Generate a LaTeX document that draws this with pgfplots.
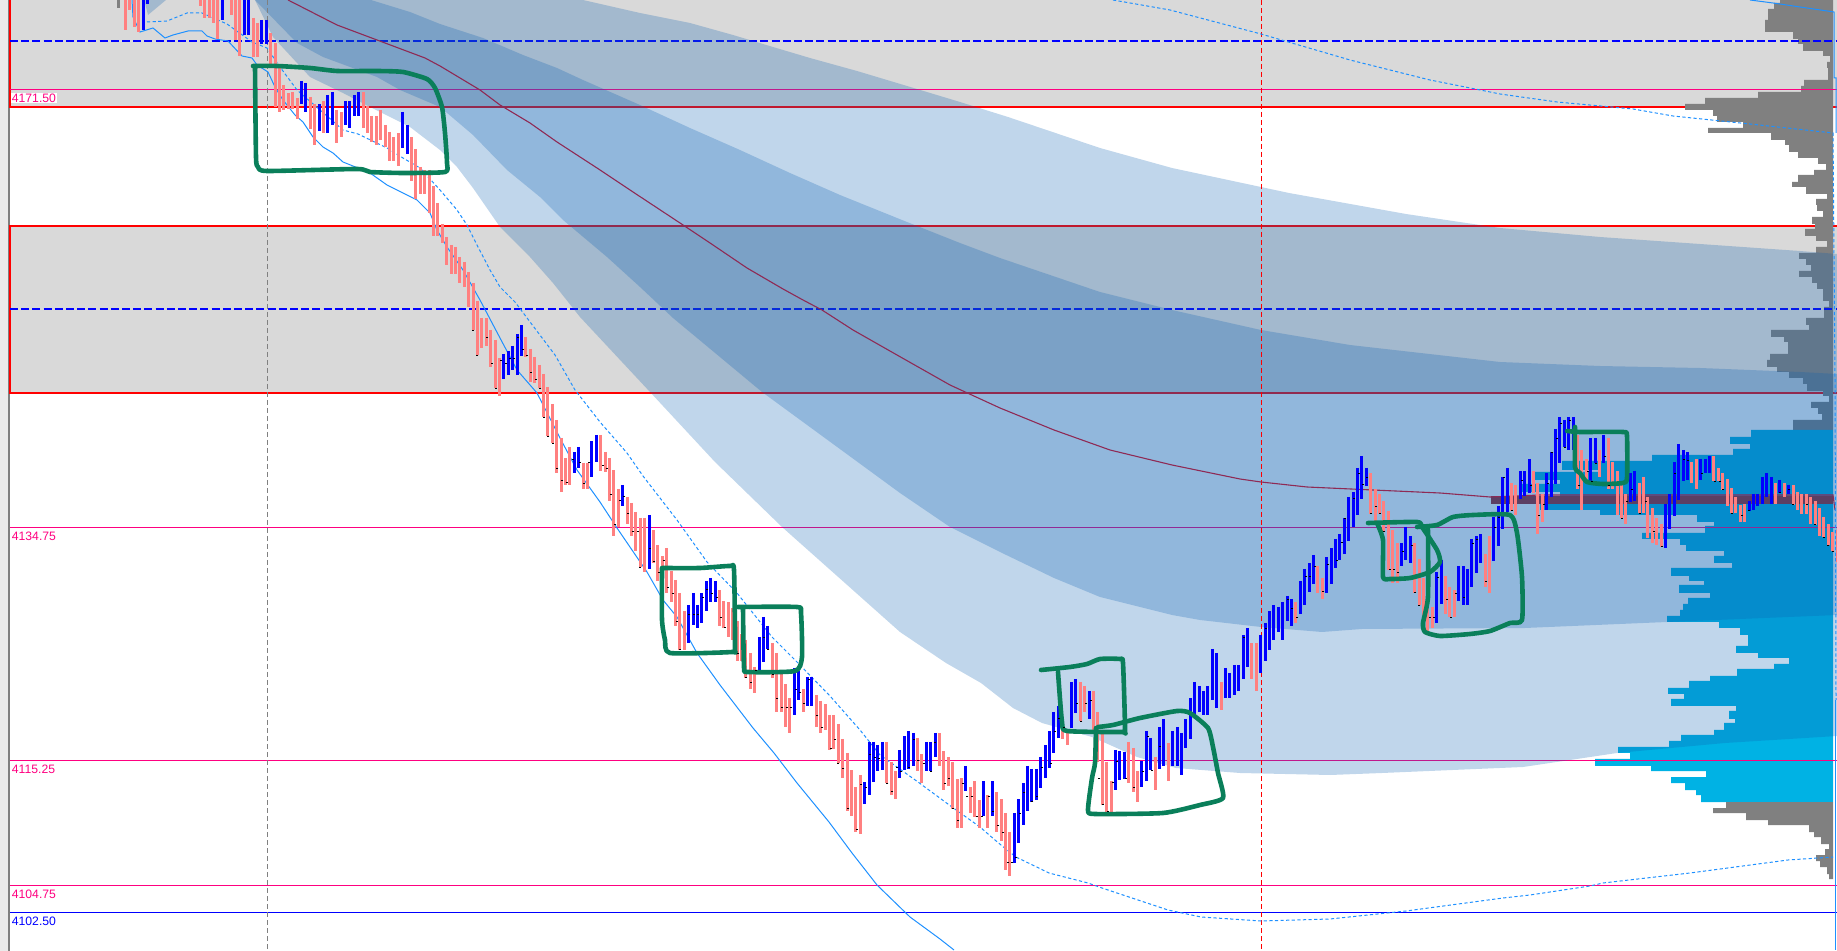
\documentclass[border=0pt]{standalone}
\usepackage{fontspec}
\setmainfont{Liberation Sans}
\usepackage{pgfplots}
\usepackage{pgfplotstable}
\pgfplotsset{compat=1.18}
\definecolor{upbar}{HTML}{0000FF}
\definecolor{downbar}{HTML}{FF8080}
\definecolor{zone}{HTML}{D9D9D9}
\definecolor{vol}{HTML}{808080}
\definecolor{va}{HTML}{00B2E4}
\definecolor{poc}{HTML}{5C3F63}
\definecolor{sd}{RGB}{12,96,177}
\definecolor{vwap}{HTML}{8E2A55}
\definecolor{level}{HTML}{FF0080}
\definecolor{bandline}{HTML}{1E90FF}
\definecolor{penink}{HTML}{0A7F5A}
% bars: n = bar number, t/b = top and bottom in screen px
\pgfplotstableread[row sep=\\]{
n t b\\
-75 -5 30\\ -74 -5 4\\ -57 -5 20\\ -52 -5 35\\ -51 -5 35\\ -48 20 44\\ -47 20 44\\ -39 81 104\\ -38 83 112\\ -35 104 131\\
-33 95 133\\ -32 92 125\\ -29 101 125\\ -28 101 128\\ -27 95 116\\ -26 92 116\\ -16 112 148\\ -15 125 154\\
7 354 379\\ 8 351 375\\ 9 346 370\\ 10 334 375\\ 11 325 356\\ 23 452 473\\ 24 447 468\\ 27 441 477\\ 28 435 462\\ 34 485 506\\ 40 515 569\\
49 605 643\\ 50 593 625\\ 51 605 628\\ 52 593 623\\ 53 581 611\\ 54 578 602\\ 55 581 602\\ 65 637 671\\ 66 617 662\\ 67 626 649\\
73 668 715\\ 74 671 700\\ 76 677 706\\ 77 677 706\\ 89 782 804\\ 90 742 795\\ 91 742 782\\ 92 745 771\\ 93 742 770\\ 97 750 778\\ 98 736 770\\
99 731 769\\ 100 733 766\\ 103 742 771\\ 104 742 771\\ 105 733 757\\ 112 766 791\\ 116 781 816\\ 118 781 816\\ 123 813 863\\ 124 799 843\\
125 783 825\\ 126 766 811\\ 127 769 802\\ 128 769 800\\ 129 757 788\\ 130 745 778\\ 131 731 768\\ 132 712 753\\ 133 706 738\\ 136 682 728\\
137 679 713\\ 140 691 719\\ 146 750 790\\ 147 751 780\\ 148 752 779\\ 152 761 787\\ 153 731 781\\ 154 738 770\\ 156 727 769\\ 157 719 766\\
159 731 766\\ 160 727 766\\ 161 733 775\\ 162 719 748\\ 163 698 739\\ 164 682 715\\ 165 686 712\\ 166 691 715\\ 167 686 715\\ 168 649 700\\
169 653 708\\ 171 668 698\\ 172 673 698\\ 173 665 695\\ 174 665 691\\ 175 635 679\\ 176 628 667\\ 179 635 673\\ 180 623 661\\ 181 611 650\\
182 605 640\\ 183 607 632\\ 184 602 640\\ 185 596 621\\ 186 599 626\\ 188 581 614\\ 189 569 605\\ 190 563 592\\ 191 555 584\\ 194 557 593\\
195 548 584\\ 196 539 568\\ 197 534 560\\ 198 518 554\\ 199 497 541\\ 200 492 527\\ 201 468 515\\ 202 456 499\\ 203 468 486\\ 211 543 566\\
212 527 560\\ 213 536 563\\ 219 572 623\\ 220 560 604\\ 224 566 601\\ 225 566 605\\ 226 569 605\\ 227 539 587\\ 228 536 573\\ 229 534 563\\
232 517 561\\ 233 506 546\\ 234 477 529\\ 235 468 512\\ 238 471 499\\ 239 471 496\\ 240 459 493\\ 244 473 510\\ 245 452 497\\ 246 429 484\\
247 417 463\\ 248 420 447\\ 249 417 450\\ 250 417 450\\ 254 438 481\\ 255 438 463\\ 257 435 463\\ 263 473 502\\ 264 471 501\\ 271 504 548\\
272 494 529\\ 273 462 516\\ 274 444 500\\ 275 450 481\\ 276 452 480\\ 279 459 480\\ 280 459 473\\ 281 456 473\\ 290 501 511\\ 291 494 510\\
292 494 506\\ 293 477 504\\ 294 473 497\\ 295 477 504\\ 297 480 493\\ 299 485 494\\
}\upbars
\pgfplotstableread[row sep=\\]{
n t b\\
-79 -5 30\\ -78 -5 10\\ -77 -5 27\\ -76 -5 32\\ -62 -5 6\\ -61 -5 18\\ -60 -5 18\\ -59 -5 23\\ -58 -5 39\\ -55 -5 15\\ -54 -5 40\\ -53 -5 56\\
-50 18 57\\ -49 23 57\\ -46 33 68\\ -45 43 107\\ -44 68 112\\ -43 85 110\\ -42 93 109\\ -41 92 109\\ -40 98 119\\ -37 97 129\\ -36 104 145\\
-34 101 133\\ -31 110 143\\ -30 112 137\\ -25 92 128\\ -24 106 133\\ -23 116 142\\ -22 116 145\\ -21 110 140\\ -20 125 147\\ -19 132 161\\
-18 137 161\\ -17 133 166\\ -14 137 181\\ -13 149 199\\ -12 167 194\\ -11 170 194\\ -10 170 213\\ -9 186 236\\ -8 203 236\\ -7 224 243\\
-6 237 265\\ -5 245 274\\ -4 247 274\\ -3 257 283\\ -2 262 287\\ -1 272 307\\ 0 283 330\\ 1 301 355\\ 2 318 348\\ 3 318 346\\ 4 330 367\\
5 340 388\\ 6 358 396\\ 12 337 357\\ 13 349 382\\ 14 357 383\\ 15 365 388\\ 16 374 417\\ 17 387 436\\ 18 404 443\\ 19 420 473\\ 20 438 492\\
21 458 485\\ 22 447 485\\ 25 463 489\\ 26 463 489\\ 29 435 471\\ 30 452 472\\ 31 458 501\\ 32 470 536\\ 33 489 527\\ 35 497 524\\ 36 503 536\\
37 512 551\\ 38 518 567\\ 39 518 572\\ 41 530 563\\ 42 545 581\\ 43 556 575\\ 44 548 593\\ 45 571 602\\ 46 580 626\\ 47 593 650\\ 48 611 650\\
56 590 626\\ 57 601 628\\ 58 602 637\\ 59 608 640\\ 60 621 661\\ 61 634 661\\ 62 640 678\\ 63 653 689\\ 64 667 693\\ 68 643 678\\ 69 653 712\\
70 673 712\\ 71 684 727\\ 72 698 733\\ 75 689 712\\ 78 695 727\\ 79 701 733\\ 80 704 730\\ 81 715 750\\ 82 715 749\\ 83 724 763\\ 84 739 778\\
85 753 811\\ 86 770 816\\ 87 787 832\\ 88 775 834\\ 94 742 783\\ 95 762 795\\ 96 771 799\\ 101 738 771\\ 102 754 783\\ 106 733 766\\ 107 751 790\\
108 757 786\\ 109 762 809\\ 110 779 828\\ 111 778 828\\ 113 787 813\\ 114 781 817\\ 115 800 828\\ 117 795 828\\ 119 792 832\\ 120 799 841\\
121 813 870\\ 122 832 876\\ 134 719 739\\ 135 731 745\\ 138 682 721\\ 139 686 712\\ 141 691 730\\ 142 712 762\\ 143 734 805\\ 144 762 812\\
145 781 813\\ 149 742 783\\ 150 748 792\\ 151 771 802\\ 155 757 790\\ 158 743 781\\ 170 682 710\\ 177 643 679\\ 178 643 691\\ 187 602 623\\
192 566 593\\ 193 578 599\\ 204 473 514\\ 205 489 521\\ 206 494 514\\ 207 501 531\\ 208 511 570\\ 209 530 583\\ 210 543 583\\ 214 543 593\\
215 559 605\\ 216 578 617\\ 217 607 631\\ 218 607 628\\ 221 576 614\\ 222 587 617\\ 223 590 617\\ 230 554 587\\ 231 536 593\\ 236 483 511\\
237 485 515\\ 241 471 493\\ 242 483 534\\ 243 494 522\\ 251 435 489\\ 252 450 510\\ 253 459 480\\ 256 450 477\\ 258 438 489\\ 259 462 489\\
260 471 515\\ 261 484 518\\ 262 494 524\\ 265 483 513\\ 266 477 513\\ 267 497 538\\ 268 508 543\\ 269 518 545\\ 270 524 547\\ 277 462 483\\
278 459 489\\ 282 456 481\\ 283 468 481\\ 284 473 490\\ 285 479 506\\ 286 488 513\\ 287 497 513\\ 288 505 522\\ 289 504 522\\ 296 483 504\\
298 483 497\\ 300 485 505\\ 301 492 510\\ 302 494 514\\ 303 494 514\\ 304 497 524\\ 305 501 525\\ 306 508 536\\ 307 517 537\\ 308 524 545\\
309 532 551\\ 310 530 562\\
}\downbars
\begin{document}
\begin{tikzpicture}
\path[use as bounding box] (0,0) rectangle (918.5pt,475.5pt);
\begin{axis}[
 width=918.5pt, height=475.5pt, scale only axis,
 xmin=0, xmax=1837, ymin=0, ymax=951, y dir=reverse,
 hide axis,
 every axis plot/.append style={line join=miter},
]
% side of the window
\addplot[draw=none, fill=black!8] coordinates {(0,0) (8,0) (8,951) (0,951)} -- cycle;
\addplot[vol, line width=1pt] coordinates {(9.3,0) (9.3,951)};
% zones
\addplot[draw=none, fill=zone] coordinates {(10,-5) (1837,-5) (1837,107) (10,107)} -- cycle;
\addplot[draw=none, fill=zone] coordinates {(10,226) (1837,226) (1837,393) (10,393)} -- cycle;
\addplot[red, line width=1pt] coordinates {(10,-5) (10,107) (1837,107)};
\addplot[red, line width=1pt] coordinates {(1837,226) (10,226) (10,393) (1837,393)};
% volume profile
\addplot[draw=none, fill=vol, const plot] coordinates {(1833,-2) (1780,3) (1774,9) (1768,20) (1765,32) (1793,39) (1798,44) (1803,51) (1823,56) (1830,62) (1827,68) (1828,80) (1804,86) (1801,92) (1758,98) (1705,104) (1685,110) (1713,116) (1717,122) (1743,128) (1708,133) (1771,140) (1785,145) (1789,152) (1798,158) (1818,164) (1826,170) (1814,175) (1798,182) (1792,187) (1806,194) (1827,199) (1816,205) (1817,211) (1823,217) (1812,224) (1815,229) (1805,236) (1816,241) (1827,247) (1816,253) (1799,259) (1806,265) (1811,271) (1799,277) (1812,283) (1817,289) (1823,301) (1829,307) (1824,318) (1806,325) (1809,330) (1771,337) (1784,342) (1788,354) (1770,360) (1767,367) (1777,372) (1789,378) (1803,384) (1807,391) (1823,396) (1829,402) (1811,408) (1818,414) (1822,420) (1793,430) (1833,430)} -- cycle;
\addplot[draw=none, fill=va, const plot] coordinates {(1833,430) (1751,437) (1730,444) (1750,449) (1733,455) (1652,461) (1562,470) (1600,472) (1535,480) (1560,484) (1520,492) (1560,497) (1540,510) (1600,515) (1697,522) (1714,526) (1705,533) (1642,539) (1680,545) (1686,551) (1724,556) (1714,563) (1732,568) (1671,576) (1689,581) (1704,585) (1679,593) (1710,598) (1688,604) (1683,610) (1680,616) (1667,622) (1719,628) (1740,635) (1748,646) (1736,653) (1758,658) (1789,664) (1774,669) (1737,676) (1710,681) (1689,688) (1668,694) (1684,699) (1671,706) (1736,711) (1729,719) (1735,723) (1724,730) (1714,735) (1681,741) (1669,747) (1618,753) (1630,759) (1595,766) (1651,771) (1706,777) (1671,783) (1685,790) (1696,795) (1701,802) (1833,802)} -- cycle;
\addplot[draw=none, fill=vol, const plot] coordinates {(1833,802) (1726,808) (1713,813) (1746,820) (1768,825) (1809,832) (1814,837) (1821,844) (1829,849) (1825,855) (1816,861) (1820,867) (1827,874) (1829,879) (1833,879)} -- cycle;
% levels
\addplot[level, line width=.5pt] coordinates {(10,89.5) (1837,89.5)};
\addplot[level, line width=.5pt] coordinates {(10,527.5) (1837,527.5)};
\addplot[level, line width=.5pt] coordinates {(10,760.5) (1837,760.5)};
\addplot[level, line width=.5pt] coordinates {(10,885.5) (1837,885.5)};
\addplot[upbar, line width=.5pt] coordinates {(10,912.5) (1837,912.5)};
\addplot[upbar, line width=1pt, dash pattern=on 4pt off 1.6pt] coordinates {(10,41) (1837,41)};
\addplot[upbar, line width=1pt, dash pattern=on 4pt off 1.6pt] coordinates {(10,309) (1837,309)};
% deviation bands
\addplot[draw=none, fill=sd, fill opacity=.26] coordinates {(143,-5) (148,15) (172,-5)} -- cycle;
\addplot[draw=none, fill=sd, fill opacity=.26] coordinates {(578,-5) (583,0) (640,13) (690,23) (733,35) (773,47) (810,58) (857,71) (907,86) (960,102) (1008,117) (1100,148) (1172,168) (1289,193) (1406,214) (1500,228) (1600,237) (1700,244) (1800,251) (1837,254) (1837,736) (1725,743) (1617,753) (1523,767) (1382,773) (1330,775) (1240,773) (1176,768) (1137,757) (1092,737) (1042,723) (1013,708) (981,683) (946,663) (900,632) (782,527) (715,462) (650,392) (580,317) (553,283) (530,257) (500,227) (473,188) (457,167) (440,150) (410,127) (370,107) (343,93) (310,77) (273,37) (255,0) (250,-5)} -- cycle;
\addplot[draw=none, fill=sd, fill opacity=.26] coordinates {(366,-5) (371,0) (410,12) (440,24) (483,38) (523,55) (557,68) (583,80) (640,105) (690,128) (740,150) (790,173) (840,195) (907,222) (960,243) (1000,258) (1100,292) (1172,310) (1261,330) (1350,345) (1500,362) (1600,366) (1700,368) (1800,372) (1837,374) (1837,615) (1667,622) (1525,628) (1362,629) (1322,632) (1261,627) (1200,620) (1172,615) (1100,597) (1054,578) (1000,552) (950,527) (900,493) (762,392) (673,318) (640,287) (607,257) (563,220) (540,197) (507,170) (473,135) (440,107) (400,90) (377,77) (323,57) (297,43) (255,0) (252,-5)} -- cycle;
% session separators
\addplot[black!50, line width=.4pt, dash pattern=on 2.5pt off 1.5pt] coordinates {(267.5,0) (267.5,951)};
\addplot[red, line width=.5pt, dash pattern=on 2.5pt off 1.5pt] coordinates {(1261.5,0) (1261.5,951)};
% point of control
\addplot[draw=none, fill=poc] coordinates {(1491,496) (1833,496) (1833,504) (1491,504)} -- cycle;
% vwap
\addplot[vwap, line width=.55pt] coordinates {(288,0) (337,25) (377,40) (425,58) (440,66) (480,90) (500,105) (530,123) (557,142) (597,168) (630,190) (680,223) (713,245) (747,268) (783,289) (803,300) (822,310) (853,330) (897,355) (950,385) (1000,408) (1054,430) (1110,450) (1172,465) (1240,479) (1261,482) (1307,487) (1373,490) (1440,493) (1490,497) (1540,495) (1833,495) (1835,510)};
% thin bands
\addplot[bandline, line width=.5pt] coordinates {(132,0) (133,17) (140,32) (153,28) (165,38) (173,35) (188,31) (202,31) (207,36) (215,39) (228,41) (242,56) (252,58) (257,65) (268,72) (275,87) (283,100) (295,115) (303,122) (313,137) (323,147) (333,153) (343,162) (358,168) (370,173) (387,185) (397,190) (417,200) (430,213) (437,230) (447,247) (463,270) (480,300) (500,338) (517,370) (537,393) (560,438) (577,470) (600,502) (617,528) (632,550) (647,572) (663,600) (677,617) (697,653) (720,685) (753,728) (774,753) (797,783) (829,822) (852,853) (877,885) (910,917) (940,939) (954,950)};
\addplot[bandline, line width=.5pt, dash pattern=on 1.6pt off 1.2pt] coordinates {(147,22) (167,21) (187,13) (202,13) (227,24) (252,42) (267,48) (280,67) (297,90) (343,130) (358,134) (387,148) (403,158) (420,168) (440,190) (457,210) (467,225) (477,245) (490,270) (500,287) (515,302) (555,355) (575,390) (600,422) (627,453) (643,476) (677,520) (707,562) (737,593) (772,637) (797,662) (830,696) (860,730) (880,755) (897,767) (918,782) (952,807) (980,827) (995,840) (1007,850) (1016,857) (1049,873) (1088,883) (1102,888) (1168,910) (1201,917) (1261,921) (1330,919) (1406,911) (1503,898) (1530,895) (1590,886) (1603,883) (1690,873) (1788,860) (1833,857)};
\addplot[bandline, line width=.5pt, dash pattern=on 1.6pt off 1.2pt] coordinates {(1113,0) (1170,10) (1261,34) (1350,60) (1430,80) (1500,94) (1557,102) (1633,109) (1673,116) (1750,124) (1833,133) (1835,380) (1836,700)};
\addplot[bandline, line width=.5pt] coordinates {(1750,0) (1773,3) (1834,12) (1834,78) (1836,78) (1836,133)};
\addplot[bandline, line width=.5pt] coordinates {(1835,700) (1835,950)};
% price bars
\addplot[draw=none, error bars/.cd, y dir=plus, y explicit, error mark=none, error bar style={vol, line width=1.5pt}] table[x expr=473.07+4.4*\thisrow{n}, y=t, y error expr=\thisrow{b}-\thisrow{t}, row sep=\\] {n t b\\ -80.5 -5 8\\};
\addplot[draw=none, error bars/.cd, y dir=plus, y explicit, error mark=none, error bar style={downbar, line width=1.5pt}] table[x expr=473.07+4.4*\thisrow{n}, y=t, y error expr=\thisrow{b}-\thisrow{t}] {\downbars};
\addplot[draw=none, error bars/.cd, y dir=plus, y explicit, error mark=none, error bar style={upbar, line width=1.5pt}] table[x expr=473.07+4.4*\thisrow{n}, y=t, y error expr=\thisrow{b}-\thisrow{t}] {\upbars};
% closes
\addplot[only marks, mark=-, mark size=.5pt, mark options={black, line width=.45pt}] coordinates {(472.7,330) (477.3,355) (487.3,337) (491.7,363) (495.7,388) (501,360) (506,363) (510,358) (514.3,358) (518.3,337) (523.3,349) (527,355) (531,372) (536,379) (540.3,388) (544,417) (548.3,436) (552.7,443) (557.3,468) (562.3,480) (566.7,482) (572.7,459) (580,462) (584.3,483) (589.3,462) (602.7,465) (606.7,468) (611,494) (615.3,524) (620,500) (624,496) (628.3,513) (633.3,531) (637.7,531) (640,567) (650,548) (654.3,561) (659.3,572) (663.7,560) (668,587) (672.7,593) (676.7,621) (680,649) (689.3,614) (694,614) (697.7,614) (702.7,597) (707.3,589) (712,593) (716.7,597) (721,617) (725,627) (738.3,653) (746,677) (750.7,682) (755.7,670) (764,637) (768.3,649) (773.3,674) (777.3,698)
(782.3,707) (786.7,707) (791.3,707) (795.7,689) (800,692) (804.3,703) (809,679) (817.3,715) (822.3,727) (831,748) (835,739) (838.3,763) (843.3,768) (848.3,808) (857,829) (861,784) (866,787) (870.3,754) (875,757) (879.3,758) (887.3,783) (892.3,791) (897.3,767) (900.7,771) (909,767) (914,739) (918.3,760) (924,763) (930.7,771) (935,742) (945,783) (949,778) (953.3,808) (958.3,820) (963.3,783) (967.3,796) (971.7,796) (976.7,816) (981.7,816) (989.3,796) (993.3,811) (998.3,825) (1002.7,832) (1007.7,862) (1011.7,862) (1016,857) (1020,813) (1024.3,792) (1032.3,801) (1036.7,796) (1041.7,767) (1050.7,763) (1055,731) (1059.3,718) (1064,727) (1076.7,703) (1081,721) (1086,703) (1090.7,700) (1099.3,778) (1102.7,804) (1108.3,811) (1112.7,782) (1116.7,761) (1125.7,778) (1134,787) (1143.3,771) (1148.3,736) (1151.7,770) (1160,746)
(1244,637) (1266,628) (1288.3,599) (1292.3,608) (1297.3,617) (1306,576) (1310,576) (1315,566) (1323.3,591) (1328.3,564) (1337.3,560) (1341.7,542) (1345,518) (1354.3,498) (1359,473) (1363.3,484) (1367.3,477) (1371.3,513) (1376.3,506) (1380,513) (1384.3,531) (1389.7,569) (1394,569) (1398.3,572) (1402.7,551) (1411.7,545) (1415.3,592) (1419.3,605) (1430,617) (1434,617) (1438,577) (1447.3,599) (1450.7,617) (1456,593) (1464,597) (1472.7,543) (1477.3,539) (1486,581) (1495,527) (1499.3,517) (1504,477) (1511.7,510) (1521.7,480) (1530.7,485) (1539,515)
(1544,504) (1548,483) (1552.3,452) (1556.7,438) (1561,423) (1565,447) (1570,420) (1579.3,485) (1587.7,471) (1591.7,481) (1596,463) (1605,456) (1609.3,485) (1621.7,518) (1627.3,501) (1631.7,489) (1640,513) (1645.7,501) (1654,531) (1662.3,546) (1675,473) (1684,459) (1688.3,460) (1701.7,473) (1715,481) (1720,481) (1723.3,489) (1732,513) (1741.7,515) (1749.3,510) (1780,492) (1789.3,489) (1793.3,504) (1806.7,504) (1815.3,524) (1824,537) (1828.3,545) (1833.3,551)};
% pen marks
\pgfplotsset{inkline/.style={penink, line width=2.3pt, line cap=round, line join=round, smooth, tension=.35}}
\addplot[inkline] coordinates {(253,66) (277,66) (310,68) (337,71) (377,71) (403,72) (427,79) (435,88) (442,107) (445,133) (447,163) (445,172) (403,173) (370,172) (357,169) (267,171) (258,167) (256,157) (255,66)};
\addplot[inkline] coordinates {(662,568) (700,568) (730,566) (734,570) (735,648) (732,652) (670,653) (665,640) (662,620) (662,568)};
\addplot[inkline] coordinates {(738,607) (797,607) (801,613) (802,657) (795,671) (748,672) (744,667) (743,608)};
\addplot[inkline] coordinates {(1041,670) (1070,667) (1087,664) (1100,659) (1120,659) (1123,663) (1125,730) (1122,732) (1067,731) (1062,722) (1058,672)};
\addplot[inkline] coordinates {(1098,727) (1113,725) (1140,718) (1177,711) (1190,713) (1208,728) (1213,747) (1218,773) (1223,798) (1200,805) (1163,813) (1095,814) (1088,810) (1092,778) (1095,763) (1096,728)};
\addplot[inkline] coordinates {(1368,523) (1417,522) (1422,527) (1437,550) (1440,562) (1430,572) (1410,578) (1390,579) (1383,577) (1383,540) (1377,523)};
\addplot[inkline] coordinates {(1417,527) (1437,525) (1453,517) (1473,515) (1510,515) (1517,533) (1522,577) (1522,620) (1510,623) (1490,631) (1470,634) (1440,636) (1425,632) (1423,623) (1428,597) (1428,530)};
\addplot[inkline] coordinates {(1567,431) (1580,432) (1623,432) (1627,436) (1627,478) (1623,483) (1603,484) (1587,482) (1580,473) (1575,467) (1575,427)};
% price labels
\tikzset{lab/.style={anchor=west, inner sep=.5pt, font=\fontsize{6.1}{7}\selectfont}}
\node[lab, fill=white, text=level] at (axis cs:10.5,98) {4171.50};
\node[lab, text=level] at (axis cs:10.5,536) {4134.75};
\node[lab, text=level] at (axis cs:10.5,769) {4115.25};
\node[lab, text=level] at (axis cs:10.5,894) {4104.75};
\node[lab, text=upbar] at (axis cs:10.5,921) {4102.50};
\end{axis}
\end{tikzpicture}
\end{document}
